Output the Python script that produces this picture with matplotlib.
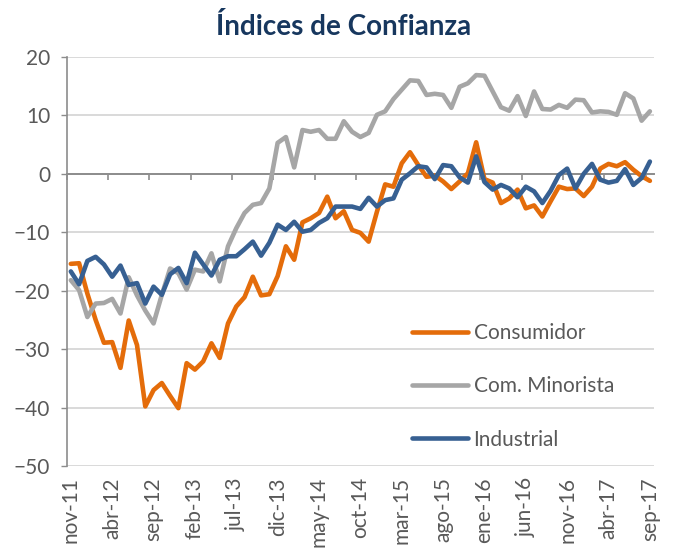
import matplotlib
matplotlib.use("Agg")
import matplotlib.pyplot as plt
import numpy as np

plt.rcParams['font.family'] = ['Lato', 'DejaVu Sans']

title = "Índices de Confianza"
tick_labels = ["nov-11", "abr-12", "sep-12", "feb-13", "jul-13", "dic-13", "may-14",
               "oct-14", "mar-15", "ago-15", "ene-16", "jun-16", "nov-16", "abr-17", "sep-17"]
series_names = ["Consumidor", "Com. Minorista", "Industrial"]

consumidor = [-15.4, -15.3, -20.5, -25.0, -28.9, -28.8, -33.2, -25.1, -29.3, -39.8,
              -37.0, -35.8, -38.0, -40.1, -32.4, -33.5, -32.1, -29.0, -31.5, -25.6,
              -22.7, -21.1, -17.6, -20.8, -20.6, -17.5, -12.4, -14.7, -8.3, -7.6,
              -6.7, -3.9, -7.6, -6.4, -9.6, -10.1, -11.6, -6.5, -1.8, -2.2,
              1.8, 3.7, 1.5, -0.5, -0.3, -1.3, -2.6, -1.3, 0.1, 5.4,
              -0.9, -1.5, -5.0, -4.2, -2.7, -5.9, -5.4, -7.3, -4.7, -2.2,
              -2.6, -2.5, -3.8, -2.2, 0.9, 1.7, 1.3, 2.0, 0.7, -0.4,
              -1.2]
minorista = [-18.2, -19.9, -24.5, -22.2, -22.1, -21.4, -23.9, -17.7, -20.8, -23.4,
             -25.6, -20.7, -16.2, -17.0, -19.8, -16.4, -16.7, -13.6, -18.4, -12.4,
             -9.3, -6.7, -5.3, -5.0, -2.5, 5.3, 6.3, 1.1, 7.5, 7.2,
             7.5, 6.0, 6.0, 9.0, 7.2, 6.3, 7.0, 10.1, 10.7, 12.8,
             14.4, 16.0, 15.9, 13.5, 13.7, 13.5, 11.3, 14.9, 15.5, 16.9,
             16.8, 14.1, 11.4, 10.8, 13.3, 9.9, 14.1, 11.1, 11.0, 11.8,
             11.3, 12.7, 12.6, 10.5, 10.7, 10.6, 10.1, 13.8, 12.9, 9.1,
             10.7]
industrial = [-16.7, -18.9, -14.9, -14.2, -15.5, -17.6, -15.7, -19.0, -18.7, -22.2,
              -19.3, -20.7, -17.2, -16.1, -18.7, -13.5, -15.5, -17.4, -14.7, -14.1,
              -14.1, -12.9, -11.6, -14.0, -11.8, -8.7, -9.6, -8.2, -9.9, -9.6,
              -8.4, -7.6, -5.6, -5.6, -5.6, -6.0, -4.1, -5.6, -4.5, -4.2,
              -1.0, 0.1, 1.3, 1.1, -0.9, 1.5, 1.3, -0.6, -1.5, 3.0,
              -1.4, -2.7, -1.9, -2.5, -4.0, -2.2, -3.0, -5.0, -2.9, -0.2,
              0.9, -2.5, 0.0, 1.7, -1.0, -1.5, -1.2, 0.8, -1.9, -0.7,
              2.1]

colors = ["#E46C0A", "#A6A6A6", "#376092"]
text_gray = "#595959"
axis_gray = "#8C8C8C"

fig = plt.figure(figsize=(6.73, 5.5), dpi=100)
ax = fig.add_axes([0.0991, 0.1527, 0.8727, 0.7437])

n = len(consumidor)
x = np.arange(n)
for vals, name, c in zip([consumidor, minorista, industrial], series_names, colors):
    ax.plot(x, vals, color=c, lw=3.3, label=name, solid_capstyle='round',
            solid_joinstyle='round')

ax.set_xlim(-0.5, n - 0.5)
ax.set_ylim(-50, 20)
ax.set_yticks(np.arange(-50, 21, 10))
ax.yaxis.grid(True, color="#D9D9D9", lw=1.4)
ax.set_axisbelow(True)
ax.tick_params(axis='y', colors=axis_gray, labelcolor=text_gray, labelsize=15,
               length=4, width=1, pad=8, direction='out')

for s in ['top', 'right']:
    ax.spines[s].set_visible(False)
ax.spines['left'].set_color(axis_gray)
ax.spines['left'].set_linewidth(1.2)
ax.spines['bottom'].set_position(('data', 0))
ax.spines['bottom'].set_color(axis_gray)
ax.spines['bottom'].set_linewidth(1.4)
ax.spines['bottom'].set_zorder(1.5)

step = 5
ax.set_xticks(np.arange(-0.5, n, step))
ax.set_xticklabels([])
ax.tick_params(axis='x', colors=axis_gray, length=4.5, width=1.2, direction='out')

sec = ax.secondary_xaxis(0)
sec.set_xticks(np.arange(0, n, step))
sec.set_xticklabels(tick_labels, rotation=90, color=text_gray, fontsize=15)
sec.tick_params(axis='x', length=0, pad=8)
sec.spines['bottom'].set_visible(False)

leg = ax.legend(loc='upper left', bbox_to_anchor=(0.588, 0.35), frameon=False,
                fontsize=15, handlelength=2.7, handletextpad=0.25, labelspacing=1.6,
                borderpad=0, borderaxespad=0)
for t in leg.get_texts():
    t.set_color(text_gray)

fig.text(0.511, 0.951, title, ha='center', va='center', fontsize=20,
         fontweight='bold', color="#17375E")

fig.savefig("out.png", dpi=100)
